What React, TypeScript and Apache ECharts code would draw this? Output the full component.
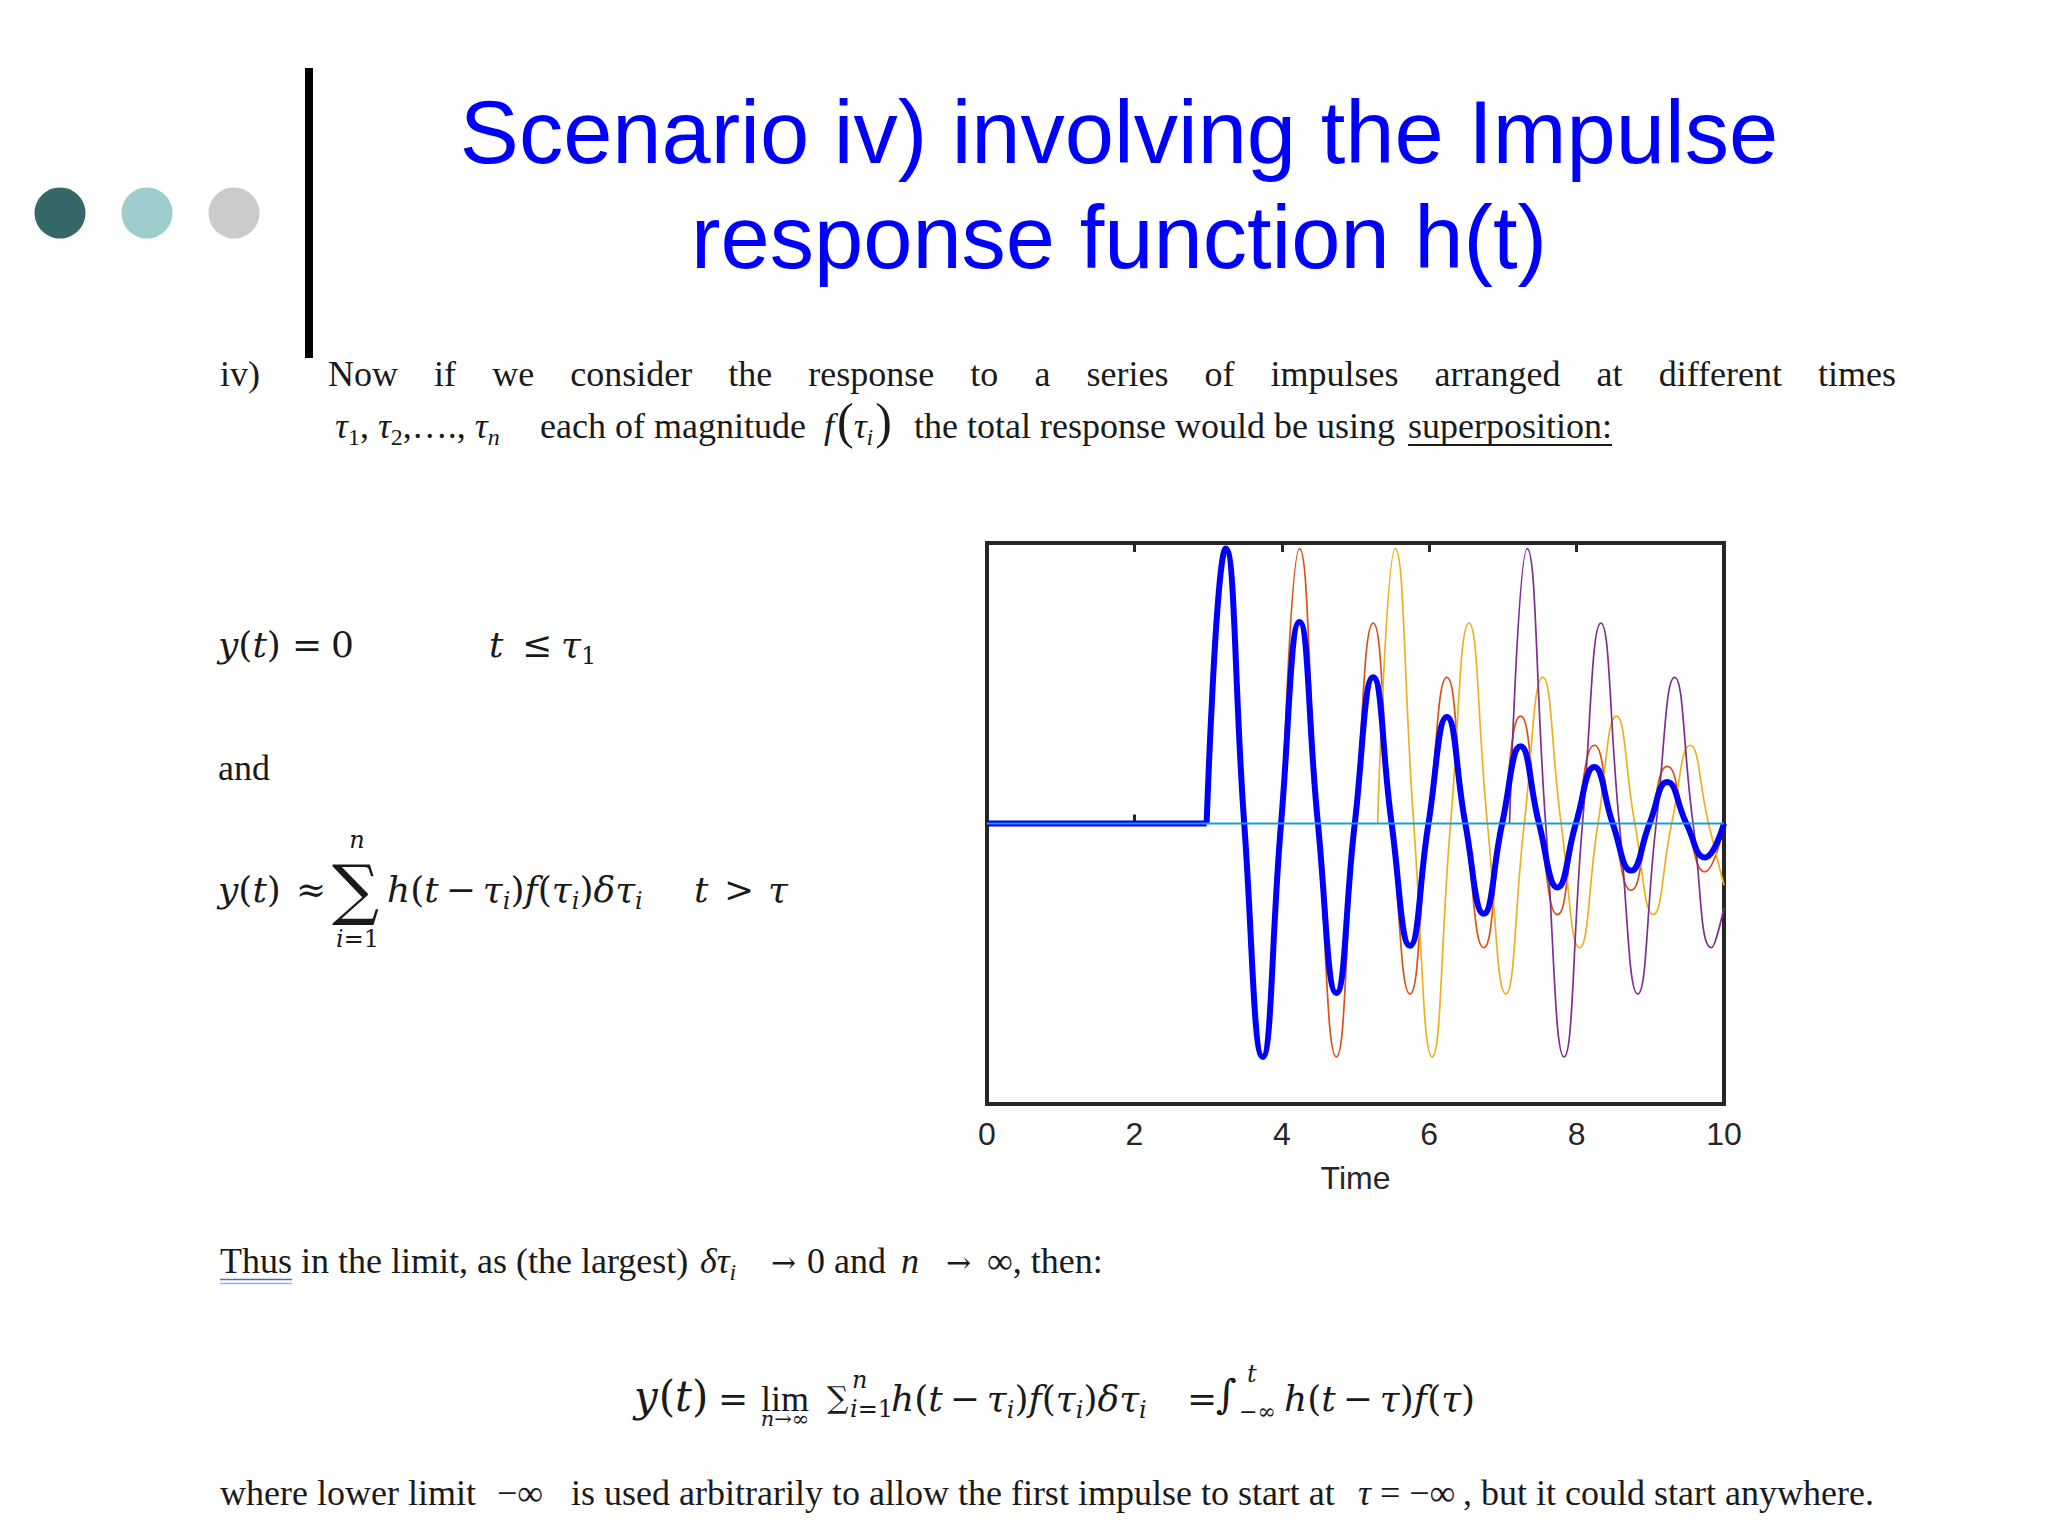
import React, { useEffect, useRef } from 'react';
import * as echarts from 'echarts';

// ---------- data (time, response) ----------
const timeTicks = [0, 2, 4, 6, 8, 10];
const yRange = [-1, 1];
const zeroLine: number[][] = [[0, 0], [10, 0]];
const leadTau1: number[][] = [[0, 0], [2.98, 0]];
const responseTau1: number[][] = [
  [2.98, 0], [3.24, 0.98], [3.49, 0], [3.74, -0.832], [3.99, 0],
  [4.24, 0.718], [4.49, 0], [4.74, -0.604], [4.99, 0],
  [5.24, 0.521], [5.49, 0], [5.74, -0.436], [5.99, 0],
  [6.24, 0.38], [6.49, 0], [6.74, -0.322], [6.99, 0],
  [7.24, 0.275], [7.49, 0], [7.74, -0.228], [7.99, 0],
  [8.24, 0.201], [8.49, 0], [8.74, -0.168], [8.99, 0],
  [9.23, 0.148], [9.49, 0], [9.74, -0.121], [10, 0],
];
const responseTau2: number[][] = [
  [4.0, 0], [4.24, 0.98], [4.49, 0], [4.74, -0.832], [4.99, 0],
  [5.24, 0.714], [5.49, 0], [5.74, -0.608], [5.99, 0],
  [6.24, 0.521], [6.49, 0], [6.74, -0.443], [6.99, 0],
  [7.24, 0.383], [7.49, 0], [7.74, -0.325], [7.99, 0],
  [8.24, 0.279], [8.49, 0], [8.74, -0.238], [8.99, 0],
  [9.23, 0.204], [9.49, 0], [9.74, -0.172], [10, -0.01],
];
const responseTau3: number[][] = [
  [5.3, 0], [5.54, 0.98], [5.79, 0], [6.04, -0.832], [6.29, 0],
  [6.54, 0.714], [6.79, 0], [7.04, -0.608], [7.29, 0],
  [7.54, 0.521], [7.79, 0], [8.04, -0.443], [8.29, 0],
  [8.54, 0.383], [8.79, 0], [9.04, -0.325], [9.29, 0],
  [9.54, 0.279], [9.79, 0], [10, -0.22],
];
const responseTau4: number[][] = [
  [7.09, 0], [7.33, 0.98], [7.58, 0], [7.83, -0.832], [8.08, 0],
  [8.33, 0.714], [8.58, 0], [8.83, -0.608], [9.08, 0],
  [9.33, 0.521], [9.58, 0], [9.83, -0.443], [10, -0.3],
];

const line1Words = ['Now', 'if', 'we', 'consider', 'the', 'response', 'to', 'a', 'series', 'of', 'impulses', 'arranged', 'at', 'different', 'times'];

const SERIF = 'Liberation Serif';
const MATH = 'DejaVu Serif';
const SANS = 'Liberation Sans';
const INK = '#1a1a1a';
const CENTRAL: Record<string, number> = { [SERIF]: 0.338, [MATH]: 0.346, [SANS]: 0.347 };

let mctx: CanvasRenderingContext2D | null = null;
function measure(t: string, size: number, fam: string, it: boolean) {
  if (!mctx) mctx = document.createElement('canvas').getContext('2d');
  mctx!.font = `${it ? 'italic ' : ''}${size}px "${fam}"`;
  return mctx!.measureText(t).width;
}

function txt(t: string, x: number, base: number, size: number, fam: string, o: any = {}) {
  return {
    type: 'text',
    x,
    y: base - (CENTRAL[fam] ?? 0.34) * size,
    silent: true,
    style: {
      text: t,
      fontSize: size,
      fontFamily: fam,
      fontStyle: o.it ? 'italic' : 'normal',
      fill: o.color || INK,
      align: o.align || 'left',
      verticalAlign: 'middle',
    },
  };
}

type Run = { t: string; at?: number; dx?: number; dy?: number; size?: number; fam?: string; it?: boolean };
function runs(list: Run[], base: number, d: { size: number; fam: string; it?: boolean }) {
  const els: any[] = [];
  let x = 0;
  for (const r of list) {
    if (r.at !== undefined) x = r.at;
    x += r.dx || 0;
    const size = r.size ?? d.size;
    const fam = r.fam ?? d.fam;
    const it = r.it ?? !!d.it;
    els.push(txt(r.t, x, base + (r.dy || 0), size, fam, { it }));
    x += measure(r.t, size, fam, it);
  }
  return els;
}

function hExpr(at: number, withSub: boolean): Run[] {
  const sub = (s: string): Run[] => (withSub ? [{ t: s, size: 24, dy: 7, it: true }] : []);
  return [
    { t: 'h', at, it: true }, { t: '(' }, { t: 't', it: true }, { t: '−', dx: 7 }, { t: 'τ', it: true, dx: 7 },
    ...sub('i'), { t: ')' }, { t: 'f', it: true }, { t: '(' }, { t: 'τ', it: true }, ...sub('i'), { t: ')' },
    ...(withSub ? [{ t: 'δ', it: true } as Run, { t: 'τ', it: true } as Run, ...sub('i')] : []),
  ];
}

function buildGraphics() {
  const els: any[] = [];
  const dots: [string, number][] = [['#356868', 60], ['#9dcdcd', 147], ['#cbcbcd', 234]];
  dots.forEach(([c, x]) => els.push({ type: 'circle', silent: true, shape: { cx: x, cy: 213, r: 25.5 }, style: { fill: c } }));
  els.push({ type: 'rect', silent: true, shape: { x: 305, y: 68, width: 8, height: 290 }, style: { fill: '#000' } });

  els.push(txt('Scenario iv) involving the Impulse', 1119, 163, 88.5, SANS, { align: 'center', color: '#0000ff' }));
  els.push(txt('response function h(t)', 1119, 268, 88.5, SANS, { align: 'center', color: '#0000ff' }));

  // paragraph line 1 (justified)
  const b1 = 386;
  els.push(txt('iv)', 220, b1, 36, SERIF));
  const ws = line1Words.map((w) => measure(w, 36, SERIF, false));
  const tot = ws.reduce((a, b) => a + b, 0);
  const gap = (1896 - 328 - tot) / (line1Words.length - 1);
  let x = 328;
  line1Words.forEach((w, i) => {
    els.push(txt(w, x, b1, 36, SERIF));
    x += ws[i] + gap;
  });

  // paragraph line 2
  els.push(...runs([
    { t: 'τ', at: 335, it: true }, { t: '1', size: 24, dy: 7 }, { t: ', ' }, { t: 'τ', it: true }, { t: '2', size: 24, dy: 7 },
    { t: ',…., ' }, { t: 'τ', it: true }, { t: 'n', size: 24, dy: 7, it: true },
  ], 438, { size: 36, fam: SERIF }));
  els.push(txt('each of magnitude', 540, 438, 36, SERIF));
  els.push(...runs([
    { t: 'f', at: 824, it: true }, { t: '(', size: 50, dx: 3 }, { t: 'τ', it: true }, { t: 'i', size: 24, dy: 7, it: true }, { t: ')', size: 50, dx: 2 },
  ], 438, { size: 36, fam: SERIF }));
  els.push(txt('the total response would be using', 914, 438, 36, SERIF));
  els.push(txt('superposition:', 1408, 438, 36, SERIF));
  const sw = measure('superposition:', 36, SERIF, false);
  els.push({ type: 'line', silent: true, shape: { x1: 1408, y1: 445, x2: 1408 + sw, y2: 445 }, style: { stroke: INK, lineWidth: 2 } });

  // y(t) = 0   t <= tau1
  els.push(...runs([
    { t: 'y', at: 218, it: true }, { t: '(' }, { t: 't', it: true }, { t: ')' },
    { t: '=', at: 292 }, { t: '0', at: 331 },
    { t: 't', at: 489, it: true }, { t: '≤', at: 522 }, { t: 'τ', at: 561, it: true }, { t: '1', size: 24, dy: 7 },
  ], 657, { size: 36, fam: MATH }));

  els.push(txt('and', 218, 780, 36, SERIF));

  // sum approximation
  els.push(...runs([
    { t: 'y', at: 218, it: true }, { t: '(' }, { t: 't', it: true }, { t: ')' }, { t: '≈', at: 296 },
  ], 902, { size: 36, fam: MATH }));
  els.push(txt('∑', 332, 912, 66, MATH));
  els.push(txt('n', 357, 848, 24, MATH, { it: true, align: 'center' }));
  els.push(...runs([{ t: 'i', at: 336, it: true }, { t: '=' }, { t: '1' }], 947, { size: 24, fam: MATH }));
  els.push(...runs(hExpr(387, true), 902, { size: 36, fam: MATH }));
  els.push(...runs([{ t: 't', at: 694, it: true }, { t: '>', at: 724 }, { t: 'τ', at: 768, it: true }], 902, { size: 36, fam: MATH }));

  // Thus line
  els.push(txt('Thus in the limit, as (the largest)', 220, 1273, 36, SERIF));
  const thw = measure('Thus', 36, SERIF, false);
  els.push({ type: 'line', silent: true, shape: { x1: 220, y1: 1279.5, x2: 220 + thw, y2: 1279.5 }, style: { stroke: '#3f6fd0', lineWidth: 1.6 } });
  els.push({ type: 'line', silent: true, shape: { x1: 220, y1: 1283.5, x2: 220 + thw, y2: 1283.5 }, style: { stroke: '#8fb0e8', lineWidth: 1.6 } });
  els.push(...runs([{ t: 'δ', at: 700, it: true }, { t: 'τ', it: true }, { t: 'i', size: 24, dy: 7, it: true }], 1273, { size: 36, fam: SERIF }));
  els.push(txt('→', 771, 1273, 30, MATH));
  els.push(txt('0 and', 807, 1273, 36, SERIF));
  els.push(txt('n', 901, 1273, 36, SERIF, { it: true }));
  els.push(txt('→', 946, 1273, 30, MATH));
  els.push(txt('∞, then:', 987, 1273, 36, SERIF));

  // limit equation
  const b3 = 1411;
  els.push(...runs([
    { t: 'y', at: 634, it: true, size: 42 }, { t: '(', size: 42, dx: 1 }, { t: 't', it: true, size: 42 }, { t: ')', size: 42 },
    { t: '=', at: 718, size: 36 },
  ], b3, { size: 36, fam: MATH }));
  // "lim" with "n→∞" beneath, one two-line text block
  els.push({
    type: 'text', x: 785, y: b3 - 24.2, silent: true,
    style: {
      text: '{a|lim}\n{b|n→∞}', align: 'center', verticalAlign: 'top', fill: INK,
      rich: {
        a: { fontSize: 36, fontFamily: SERIF, lineHeight: 24, fill: INK },
        b: { fontSize: 21, fontFamily: MATH, fontStyle: 'italic', lineHeight: 16, fill: INK },
      },
    },
  });
  els.push(txt('∑', 827, b3 - 3, 30, MATH));
  els.push(txt('n', 852, b3 - 23, 24, MATH, { it: true }));
  els.push(...runs([{ t: 'i', at: 850, it: true }, { t: '=' }, { t: '1' }], b3 + 6, { size: 24, fam: MATH }));
  els.push(...runs(hExpr(891, true), b3, { size: 36, fam: MATH }));
  els.push(txt('=', 1187, b3, 36, MATH));
  els.push(txt('∫', 1216, b3 - 3, 40, MATH));
  els.push(txt('t', 1247, b3 - 29, 24, MATH, { it: true }));
  els.push(txt('−∞', 1239, b3 + 8, 22, MATH));
  els.push(...runs(hExpr(1284, false), b3, { size: 36, fam: MATH }));

  // where line
  els.push(txt('where lower limit', 220, 1505, 36, SERIF));
  els.push(txt('−∞', 497, 1505, 36, SERIF));
  els.push(txt('is used arbitrarily to allow the first impulse to start at', 571, 1505, 36, SERIF));
  els.push(...runs([{ t: 'τ', at: 1358, it: true }, { t: ' = ' }, { t: '−∞' }], 1505, { size: 36, fam: SERIF }));
  els.push(txt(', but it could start anywhere.', 1463, 1505, 36, SERIF));
  return els;
}

const tickStyle = { show: true, inside: true, length: 9, lineStyle: { color: '#262626', width: 3 } };

export default function App() {
  const ref = useRef<HTMLDivElement>(null);
  useEffect(() => {
    document.body.style.margin = '0';
    document.body.style.overflow = 'hidden';
    const chart = echarts.init(ref.current!, null, { renderer: 'svg' });
    const thin = (name: string, data: number[][], color: string) => ({
      name, type: 'line', data, smooth: 0.5, showSymbol: false, silent: true,
      lineStyle: { color, width: 1.7 }, itemStyle: { color },
    });
    chart.setOption({
      animation: false,
      backgroundColor: '#ffffff',
      grid: { left: 987, right: 324, top: 543, bottom: 432, show: true, borderColor: '#262626', borderWidth: 4, backgroundColor: 'transparent' },
      xAxis: [
        {
          type: 'value', min: timeTicks[0], max: timeTicks[timeTicks.length - 1], interval: 2, position: 'bottom',
          axisLine: { show: false }, axisTick: tickStyle, splitLine: { show: false },
          axisLabel: { show: true, margin: 14, fontSize: 32, fontFamily: SANS, color: '#262626' },
          name: 'Time', nameLocation: 'middle', nameGap: 58,
          nameTextStyle: { fontSize: 32, fontFamily: SANS, color: '#262626' },
        },
        {
          type: 'value', min: timeTicks[0], max: timeTicks[timeTicks.length - 1], interval: 2, position: 'top',
          axisLine: { show: false }, axisTick: tickStyle, splitLine: { show: false }, axisLabel: { show: false },
        },
      ],
      yAxis: {
        type: 'value', min: yRange[0], max: yRange[1],
        axisLine: { show: false }, axisTick: { show: false }, axisLabel: { show: false }, splitLine: { show: false },
      },
      series: [
        thin('h(t−τ2)', responseTau2, '#D95319'),
        thin('h(t−τ3)', responseTau3, '#EDB120'),
        thin('h(t−τ4)', responseTau4, '#7E2F8E'),
        {
          name: 'lead', type: 'line', data: leadTau1, showSymbol: false, silent: true,
          lineStyle: { color: '#0000ff', width: 6 }, itemStyle: { color: '#0000ff' },
        },
        {
          name: 'h(t−τ1)', type: 'line', data: responseTau1, smooth: 0.5, showSymbol: false, silent: true,
          lineStyle: { color: '#0000ff', width: 6 }, itemStyle: { color: '#0000ff' },
        },
        {
          name: 'zero', type: 'line', data: zeroLine, showSymbol: false, silent: true,
          lineStyle: { color: '#1E9BD7', width: 2.2 }, itemStyle: { color: '#1E9BD7' },
        },
      ],
      graphic: buildGraphics(),
    });
    return () => chart.dispose();
  }, []);
  return <div ref={ref} style={{ position: 'absolute', left: 0, top: 0, width: 2048, height: 1536, background: '#fff' }} />;
}
